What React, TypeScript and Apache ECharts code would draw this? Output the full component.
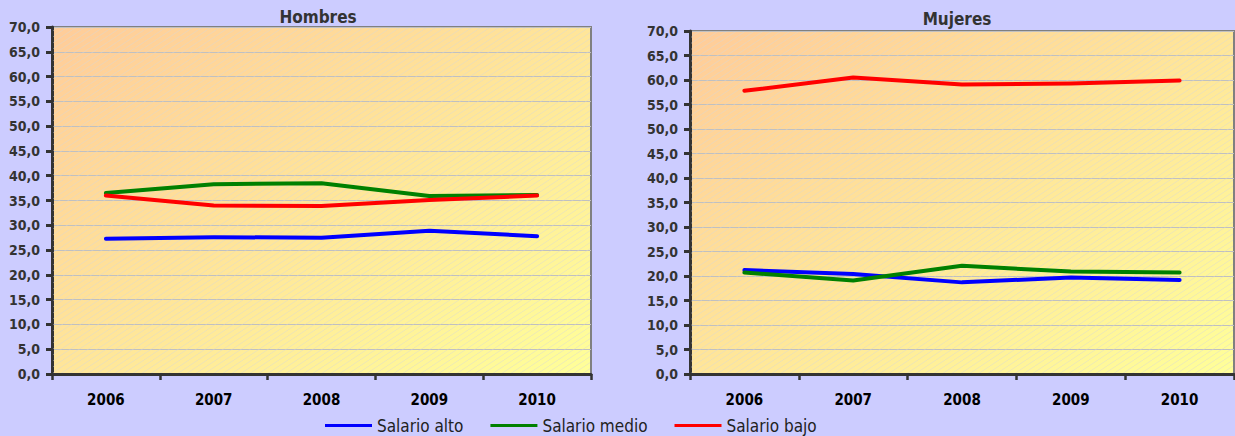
import React, { useEffect, useRef } from "react";
import * as echarts from "echarts";

const years = ["2006", "2007", "2008", "2009", "2010"];
const seriesNames = ["Salario alto", "Salario medio", "Salario bajo"];
const seriesColors = ["#0000FF", "#008000", "#FF0000"];

const hombresAlto = [27.3, 27.6, 27.5, 28.9, 27.8];
const hombresMedio = [36.5, 38.3, 38.5, 35.9, 36.1];
const hombresBajo = [36.0, 34.0, 33.9, 35.1, 36.0];

const mujeresAlto = [21.2, 20.4, 18.7, 19.7, 19.2];
const mujeresMedio = [20.7, 19.1, 22.1, 20.9, 20.7];
const mujeresBajo = [57.8, 60.5, 59.1, 59.3, 59.9];

const chartTitles = ["Hombres", "Mujeres"];

const FONT = "'DejaVu Sans Condensed', 'DejaVu Sans', sans-serif";
const W = 1235;
const H = 436;

function makeHatch(): HTMLCanvasElement | null {
  try {
    const c = document.createElement("canvas");
    c.width = 9;
    c.height = 6;
    const ctx = c.getContext("2d");
    if (!ctx) return null;
    ctx.strokeStyle = "rgba(215,215,215,0.45)";
    ctx.lineWidth = 1;
    ctx.beginPath();
    ctx.moveTo(-1, 6 + 2 / 3);
    ctx.lineTo(10, -2 / 3);
    ctx.stroke();
    return c;
  } catch (e) {
    return null;
  }
}

export default function App() {
  const ref = useRef<HTMLDivElement>(null);
  useEffect(() => {
    if (!ref.current) return;
    const chart = echarts.init(ref.current, undefined, { renderer: "svg" });

    const gridBg = new echarts.graphic.LinearGradient(0, 0, 1, 1, [
      { offset: 0, color: "#FFCC99" },
      { offset: 1, color: "#FFFF99" },
    ]);

    const grids = [
      { left: 52, top: 27, right: 644, bottom: 62 },
      { left: 690, top: 31, right: 1, bottom: 62 },
    ];

    const fmt = (v: number) => v.toFixed(1).replace(".", ",");

    const xAxes = grids.map((_, i) => ({
      type: "category",
      gridIndex: i,
      data: years,
      boundaryGap: true,
      axisLine: { lineStyle: { color: "#333333", width: 3 } },
      axisTick: { show: true, length: 6, lineStyle: { color: "#333333", width: 2.5 } },
      axisLabel: {
        margin: 18,
        color: "#000000",
        fontWeight: "bold",
        fontSize: 15,
        fontFamily: FONT,
      },
    }));

    const yAxes = grids.map((_, i) => ({
      type: "value",
      gridIndex: i,
      min: 0,
      max: 70,
      interval: 5,
      axisLine: { show: true, lineStyle: { color: "#333333", width: 3 } },
      axisTick: { show: true, length: 6, lineStyle: { color: "#333333", width: 3 } },
      splitLine: { show: true, lineStyle: { color: "#C0C0C0", width: 1 } },
      axisLabel: {
        margin: 12,
        color: "#333333",
        fontWeight: "bold",
        fontSize: 14,
        fontFamily: FONT,
        formatter: fmt,
      },
    }));

    const data = [
      [hombresAlto, hombresMedio, hombresBajo],
      [mujeresAlto, mujeresMedio, mujeresBajo],
    ];

    const series: any[] = [];
    data.forEach((group, gi) => {
      group.forEach((vals, si) => {
        series.push({
          type: "line",
          name: seriesNames[si],
          xAxisIndex: gi,
          yAxisIndex: gi,
          data: vals,
          symbol: "none",
          z: 3,
          lineStyle: { color: seriesColors[si], width: 4, cap: "round", join: "round" },
          itemStyle: { color: seriesColors[si] },
        });
      });
    });

    const hatch = makeHatch();
    const hatchRects: any[] = hatch
      ? grids.map((g) => ({
          type: "rect",
          silent: true,
          z: 1,
          shape: {
            x: g.left + 1,
            y: g.top + 1,
            width: W - g.left - g.right - 2,
            height: H - g.top - g.bottom - 2,
          },
          style: { fill: { image: hatch, repeat: "repeat" } as any },
        }))
      : [];

    chart.setOption({
      animation: false,
      backgroundColor: "#CCCCFF",
      grid: grids.map((g) => ({
        ...g,
        show: true,
        backgroundColor: gridBg,
        borderColor: "#808080",
        borderWidth: 2,
      })),
      xAxis: xAxes,
      yAxis: yAxes,
      legend: {
        data: seriesNames,
        left: 320,
        top: 412,
        icon: "rect",
        itemWidth: 47,
        itemHeight: 3,
        itemGap: 27,
        textStyle: { color: "#222222", fontSize: 17, fontFamily: FONT },
      },
      graphic: [
        ...hatchRects,
        {
          type: "text",
          x: 318,
          y: 16.5,
          style: {
            text: chartTitles[0],
            align: "center",
            verticalAlign: "middle",
            fill: "#333333",
            font: `bold 17px ${FONT}`,
          },
        },
        {
          type: "text",
          x: 957,
          y: 19,
          style: {
            text: chartTitles[1],
            align: "center",
            verticalAlign: "middle",
            fill: "#333333",
            font: `bold 17px ${FONT}`,
          },
        },
      ],
      series,
    });

    return () => chart.dispose();
  }, []);

  return <div ref={ref} style={{ width: W, height: H, position: "absolute", left: 0, top: 0 }} />;
}
